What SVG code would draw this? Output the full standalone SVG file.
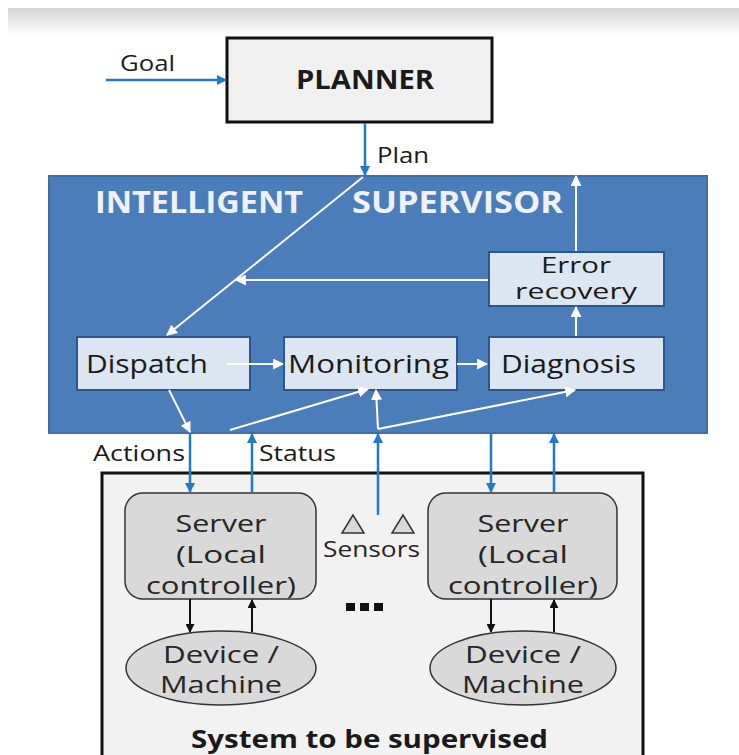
<svg xmlns="http://www.w3.org/2000/svg" width="739" height="755" viewBox="0 0 739 755">
  <defs>
    <linearGradient id="topShade" x1="0" y1="0" x2="0" y2="1">
      <stop offset="0" stop-color="#d4d4d4"/>
      <stop offset="1" stop-color="#ffffff"/>
    </linearGradient>
    <marker id="blueHead" viewBox="0 0 10 10" refX="9" refY="5" markerWidth="10" markerHeight="10" markerUnits="userSpaceOnUse" orient="auto">
      <path d="M0,0 L10,5 L0,10 z" fill="#1f7acb"/>
    </marker>
    <marker id="whiteHead" viewBox="0 0 10 10" refX="9" refY="5" markerWidth="11" markerHeight="11" markerUnits="userSpaceOnUse" orient="auto">
      <path d="M0,0 L10,5 L0,10 z" fill="#ffffff"/>
    </marker>
    <marker id="blackHead" viewBox="0 0 10 10" refX="9" refY="5" markerWidth="9" markerHeight="9" markerUnits="userSpaceOnUse" orient="auto">
      <path d="M0,0 L10,5 L0,10 z" fill="#111111"/>
    </marker>
  </defs>
  <style>
    text { font-family: "Open Sans", "Noto Sans", "DejaVu Sans", sans-serif; fill: #1a1a1a; }
    .lbl { font-size: 22px; }
    .box-inner { fill: #dce6f2; stroke: #2f5689; stroke-width: 2; }
    .inner-txt { font-size: 26px; }
    .two-line { font-size: 22px; }
    .srv { fill: #d9d9d9; stroke: #333333; stroke-width: 1.5; }
    .srv-txt { font-size: 24px; fill: #262626; text-anchor: middle; }
    .title { font-size: 31px; font-weight: bold; fill: #eef2f8; }
    .blue { stroke: #1f7acb; stroke-width: 2.5; fill: none; marker-end: url(#blueHead); }
    .white { stroke: #ffffff; stroke-width: 2; fill: none; marker-end: url(#whiteHead); }
    .black { stroke: #111111; stroke-width: 2; fill: none; marker-end: url(#blackHead); }
  </style>

  <!-- page background with slide shadow at the top -->
  <rect x="0" y="0" width="739" height="755" fill="#ffffff"/>
  <rect x="8" y="8" width="731" height="28" fill="url(#topShade)"/>

  <!-- Planner -->
  <g id="planner">
    <rect x="227" y="38" width="265" height="84" fill="#f0f0f0" stroke="#111111" stroke-width="3"/>
    <text x="296" y="89" font-size="27" font-weight="bold" textLength="138" lengthAdjust="spacingAndGlyphs">PLANNER</text>
  </g>

  <!-- Intelligent supervisor container -->
  <g id="supervisor">
    <rect x="49" y="176" width="658" height="257" fill="#4c7dbb" stroke="#3f6ea8" stroke-width="2"/>
    <text class="title" x="95" y="213" textLength="208" lengthAdjust="spacingAndGlyphs">INTELLIGENT</text>
    <text class="title" x="352" y="213" textLength="211" lengthAdjust="spacingAndGlyphs">SUPERVISOR</text>
  </g>

  <g id="error-recovery">
    <rect class="box-inner" x="489" y="252" width="175" height="54"/>
    <text class="two-line" x="541" y="273" textLength="70" lengthAdjust="spacingAndGlyphs">Error</text>
    <text class="two-line" x="515" y="299" textLength="122" lengthAdjust="spacingAndGlyphs">recovery</text>
  </g>

  <g id="dispatch">
    <rect class="box-inner" x="77" y="337" width="173" height="53"/>
    <text class="inner-txt" x="86" y="373" textLength="122" lengthAdjust="spacingAndGlyphs">Dispatch</text>
  </g>

  <g id="monitoring">
    <rect class="box-inner" x="284" y="337" width="173" height="53"/>
    <text class="inner-txt" x="288" y="373" textLength="161" lengthAdjust="spacingAndGlyphs">Monitoring</text>
  </g>

  <g id="diagnosis">
    <rect class="box-inner" x="489" y="337" width="175" height="53"/>
    <text class="inner-txt" x="501" y="373" textLength="135" lengthAdjust="spacingAndGlyphs">Diagnosis</text>
  </g>

  <!-- System to be supervised -->
  <g id="system">
    <rect x="102" y="473" width="541" height="290" fill="#f2f2f2" stroke="#111111" stroke-width="3"/>
    <text x="191" y="748" font-size="25" font-weight="bold" textLength="357" lengthAdjust="spacingAndGlyphs">System to be supervised</text>
  </g>

  <g id="server-left">
    <rect class="srv" x="125" y="493" width="191" height="106" rx="18"/>
    <text class="srv-txt" x="221" y="532" textLength="91" lengthAdjust="spacingAndGlyphs">Server</text>
    <text class="srv-txt" x="221" y="563" textLength="90" lengthAdjust="spacingAndGlyphs">(Local</text>
    <text class="srv-txt" x="221" y="594" textLength="150" lengthAdjust="spacingAndGlyphs">controller)</text>
  </g>

  <g id="server-right">
    <rect class="srv" x="428" y="493" width="189" height="106" rx="18"/>
    <text class="srv-txt" x="523" y="532" textLength="91" lengthAdjust="spacingAndGlyphs">Server</text>
    <text class="srv-txt" x="523" y="563" textLength="90" lengthAdjust="spacingAndGlyphs">(Local</text>
    <text class="srv-txt" x="523" y="594" textLength="150" lengthAdjust="spacingAndGlyphs">controller)</text>
  </g>

  <g id="device-left">
    <ellipse class="srv" cx="221" cy="668" rx="95" ry="37"/>
    <text class="srv-txt" x="221" y="663" textLength="116" lengthAdjust="spacingAndGlyphs">Device /</text>
    <text class="srv-txt" x="221" y="693" textLength="122" lengthAdjust="spacingAndGlyphs">Machine</text>
  </g>

  <g id="device-right">
    <ellipse class="srv" cx="523" cy="668" rx="93" ry="37"/>
    <text class="srv-txt" x="523" y="663" textLength="116" lengthAdjust="spacingAndGlyphs">Device /</text>
    <text class="srv-txt" x="523" y="693" textLength="122" lengthAdjust="spacingAndGlyphs">Machine</text>
  </g>

  <g id="sensors">
    <polygon points="353,515 342,533 364,533" fill="#d9d9d9" stroke="#333333" stroke-width="1.5"/>
    <polygon points="403,515 392,533 414,533" fill="#d9d9d9" stroke="#333333" stroke-width="1.5"/>
    <text x="323" y="557" font-size="22" textLength="97" lengthAdjust="spacingAndGlyphs" style="fill:#262626">Sensors</text>
  </g>

  <g id="more-servers">
    <rect x="346" y="603" width="9" height="8" fill="#111111"/>
    <rect x="360" y="603" width="9" height="8" fill="#111111"/>
    <rect x="374" y="603" width="9" height="8" fill="#111111"/>
  </g>

  <!-- connectors -->
  <g id="connectors">
    <!-- goal and plan -->
    <line class="blue" x1="106" y1="80" x2="226" y2="80"/>
    <line class="blue" x1="365" y1="123" x2="365" y2="175"/>

    <!-- inside the supervisor -->
    <line class="white" x1="363" y1="177" x2="167" y2="335"/>
    <line class="white" x1="488" y1="280" x2="236" y2="280"/>
    <line class="white" x1="576" y1="251" x2="576" y2="176"/>
    <line class="white" x1="576" y1="336" x2="576" y2="307"/>
    <line class="white" x1="227" y1="364" x2="283" y2="364"/>
    <line class="white" x1="457" y1="364" x2="487" y2="364"/>
    <line class="white" x1="169" y1="390" x2="190" y2="432"/>
    <line class="white" x1="230" y1="430" x2="368" y2="389"/>
    <line class="white" x1="378" y1="429" x2="376" y2="390"/>
    <line class="white" x1="378" y1="429" x2="575" y2="390"/>

    <!-- supervisor to/from the system -->
    <line class="blue" x1="190" y1="433" x2="190" y2="492"/>
    <line class="blue" x1="252" y1="492" x2="252" y2="434"/>
    <line class="blue" x1="378" y1="515" x2="378" y2="434"/>
    <line class="blue" x1="491" y1="433" x2="491" y2="492"/>
    <line class="blue" x1="554" y1="492" x2="554" y2="434"/>

    <!-- servers and devices -->
    <line class="black" x1="190" y1="599" x2="190" y2="632"/>
    <line class="black" x1="252" y1="632" x2="252" y2="600"/>
    <line class="black" x1="491" y1="599" x2="491" y2="632"/>
    <line class="black" x1="554" y1="632" x2="554" y2="600"/>
  </g>

  <!-- connector labels -->
  <text class="lbl" x="120" y="71" textLength="55" lengthAdjust="spacingAndGlyphs">Goal</text>
  <text class="lbl" x="377" y="163" textLength="52" lengthAdjust="spacingAndGlyphs">Plan</text>
  <text class="lbl" x="93" y="461" textLength="92" lengthAdjust="spacingAndGlyphs">Actions</text>
  <text class="lbl" x="259" y="461" textLength="77" lengthAdjust="spacingAndGlyphs">Status</text>
</svg>
